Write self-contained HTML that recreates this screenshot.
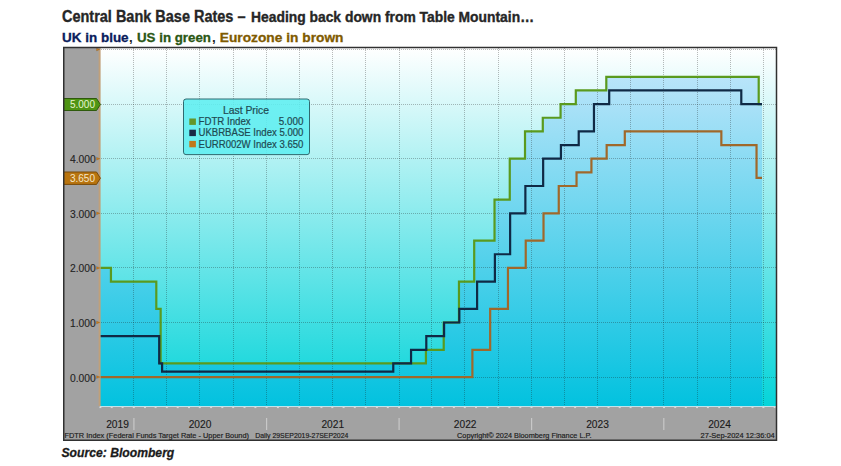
<!DOCTYPE html>
<html><head><meta charset="utf-8"><style>
html,body{margin:0;padding:0;background:#fff;width:841px;height:466px;overflow:hidden}
svg{position:absolute;left:0;top:0;display:block}
text{font-family:"Liberation Sans",sans-serif}
</style></head><body>
<svg width="841" height="466" viewBox="0 0 841 466">
<defs>
<linearGradient id="bgA" x1="0" y1="48" x2="0" y2="406" gradientUnits="userSpaceOnUse">
<stop offset="0" stop-color="#ffffff"/><stop offset="1" stop-color="#05d4d9"/></linearGradient>
<linearGradient id="bgB" x1="0" y1="48" x2="0" y2="406" gradientUnits="userSpaceOnUse">
<stop offset="0" stop-color="#c9e7fc"/><stop offset="1" stop-color="#02c2df"/></linearGradient>
</defs>
<!-- titles -->
<g font-weight="bold">
<text x="62" y="21.7" font-size="15.8" fill="#262626" stroke="#262626" stroke-width="0.35" textLength="183.5" lengthAdjust="spacingAndGlyphs">Central Bank Base Rates –</text>
<text x="251" y="21.6" font-size="14" fill="#262626" stroke="#262626" stroke-width="0.35" textLength="283" lengthAdjust="spacingAndGlyphs">Heading back down from Table Mountain…</text>
<text x="62" y="41.7" font-size="13.3" fill="#0a1c5c" stroke="#0a1c5c" stroke-width="0.3" textLength="66.6" lengthAdjust="spacingAndGlyphs">UK in blue</text>
<text x="129" y="41.7" font-size="13.3" fill="#222">,</text>
<text x="137" y="41.7" font-size="13.3" fill="#2b5714" stroke="#2b5714" stroke-width="0.3" textLength="74" lengthAdjust="spacingAndGlyphs">US in green</text>
<text x="212" y="41.7" font-size="13.3" fill="#222">,</text>
<text x="219.8" y="41.7" font-size="13.3" fill="#7f5a00" stroke="#7f5a00" stroke-width="0.3" textLength="123.7" lengthAdjust="spacingAndGlyphs">Eurozone in brown</text>
</g>
<!-- chart frame -->
<rect x="63" y="47" width="714" height="393" fill="#a2a2a2"/>
<rect x="100" y="48" width="676" height="358" fill="url(#bgA)"/>
<path d="M100.20,267.90 L110.94,267.90 L110.94,281.55 L156.30,281.55 L156.30,308.85 L160.65,308.85 L160.65,363.45 L425.93,363.45 L425.93,349.80 L443.72,349.80 L443.72,322.50 L458.96,322.50 L458.96,281.55 L474.20,281.55 L474.20,240.60 L494.52,240.60 L494.52,199.65 L509.76,199.65 L509.76,158.70 L525.01,158.70 L525.01,131.40 L542.79,131.40 L542.79,117.75 L560.57,117.75 L560.57,104.10 L575.81,104.10 L575.81,90.45 L606.30,90.45 L606.30,76.80 L758.71,76.80 L758.71,104.10 L762.00,104.10 L762.00,406 L100.20,406 Z" fill="url(#bgB)"/>
<g stroke="#1a1a1a" stroke-opacity="0.3" stroke-width="1" stroke-dasharray="1 1" fill="none">
<line x1="101" y1="377.5" x2="776" y2="377.5"/><line x1="101" y1="322.5" x2="776" y2="322.5"/><line x1="101" y1="267.5" x2="776" y2="267.5"/><line x1="101" y1="213.5" x2="776" y2="213.5"/><line x1="101" y1="158.5" x2="776" y2="158.5"/><line x1="101" y1="104.5" x2="776" y2="104.5"/><line x1="101" y1="49.5" x2="776" y2="49.5"/><line x1="133.5" y1="48" x2="133.5" y2="406"/><line x1="166.5" y1="48" x2="166.5" y2="406"/><line x1="199.5" y1="48" x2="199.5" y2="406"/><line x1="233.5" y1="48" x2="233.5" y2="406"/><line x1="266.5" y1="48" x2="266.5" y2="406"/><line x1="299.5" y1="48" x2="299.5" y2="406"/><line x1="332.5" y1="48" x2="332.5" y2="406"/><line x1="365.5" y1="48" x2="365.5" y2="406"/><line x1="399.5" y1="48" x2="399.5" y2="406"/><line x1="431.5" y1="48" x2="431.5" y2="406"/><line x1="464.5" y1="48" x2="464.5" y2="406"/><line x1="498.5" y1="48" x2="498.5" y2="406"/><line x1="531.5" y1="48" x2="531.5" y2="406"/><line x1="564.5" y1="48" x2="564.5" y2="406"/><line x1="597.5" y1="48" x2="597.5" y2="406"/><line x1="630.5" y1="48" x2="630.5" y2="406"/><line x1="663.5" y1="48" x2="663.5" y2="406"/><line x1="697.5" y1="48" x2="697.5" y2="406"/><line x1="730.5" y1="48" x2="730.5" y2="406"/><line x1="763.5" y1="48" x2="763.5" y2="406"/>
</g>
<path d="M100.20,267.90 L110.94,267.90 L110.94,281.55 L156.30,281.55 L156.30,308.85 L160.65,308.85 L160.65,363.45 L425.93,363.45 L425.93,349.80 L443.72,349.80 L443.72,322.50 L458.96,322.50 L458.96,281.55 L474.20,281.55 L474.20,240.60 L494.52,240.60 L494.52,199.65 L509.76,199.65 L509.76,158.70 L525.01,158.70 L525.01,131.40 L542.79,131.40 L542.79,117.75 L560.57,117.75 L560.57,104.10 L575.81,104.10 L575.81,90.45 L606.30,90.45 L606.30,76.80 L758.71,76.80 L758.71,104.10 L762.00,104.10" fill="none" stroke="#5a9a1e" stroke-width="2.2"/>
<path d="M100.20,336.15 L159.20,336.15 L159.20,363.45 L162.11,363.45 L162.11,371.64 L393.27,371.64 L393.27,363.45 L411.06,363.45 L411.06,349.80 L426.30,349.80 L426.30,336.15 L444.08,336.15 L444.08,322.50 L459.32,322.50 L459.32,308.85 L477.10,308.85 L477.10,281.55 L494.89,281.55 L494.89,254.25 L510.13,254.25 L510.13,213.30 L525.37,213.30 L525.37,186.00 L543.15,186.00 L543.15,158.70 L560.93,158.70 L560.93,145.05 L578.72,145.05 L578.72,131.40 L593.96,131.40 L593.96,104.10 L609.20,104.10 L609.20,90.45 L741.29,90.45 L741.29,104.10 L762.00,104.10" fill="none" stroke="#0f2945" stroke-width="2.2"/>
<path d="M100.20,377.10 L472.39,377.10 L472.39,349.80 L490.17,349.80 L490.17,308.85 L507.95,308.85 L507.95,267.90 L525.73,267.90 L525.73,240.60 L543.51,240.60 L543.51,213.30 L558.76,213.30 L558.76,186.00 L576.54,186.00 L576.54,172.35 L591.42,172.35 L591.42,158.70 L606.66,158.70 L606.66,145.05 L624.80,145.05 L624.80,131.40 L721.34,131.40 L721.34,145.05 L756.54,145.05 L756.54,177.81 L762.00,177.81" fill="none" stroke="#a0682a" stroke-width="2.2"/>
<!-- axis -->
<rect x="98.6" y="48" width="2" height="358" fill="#c0a07a"/>
<rect x="100" y="406" width="676" height="1" fill="#c0e4ec"/>
<g fill="#d8d8d8"><rect x="99.4" y="406.5" width="2" height="1.6"/><rect x="110.7" y="406.5" width="2" height="1.6"/><rect x="121.6" y="406.5" width="2" height="1.6"/><rect x="132.8" y="406.5" width="2" height="1.6"/><rect x="144.0" y="406.5" width="2" height="1.6"/><rect x="154.6" y="406.5" width="2" height="1.6"/><rect x="165.8" y="406.5" width="2" height="1.6"/><rect x="176.7" y="406.5" width="2" height="1.6"/><rect x="188.0" y="406.5" width="2" height="1.6"/><rect x="198.8" y="406.5" width="2" height="1.6"/><rect x="210.1" y="406.5" width="2" height="1.6"/><rect x="221.3" y="406.5" width="2" height="1.6"/><rect x="232.2" y="406.5" width="2" height="1.6"/><rect x="243.5" y="406.5" width="2" height="1.6"/><rect x="254.4" y="406.5" width="2" height="1.6"/><rect x="265.6" y="406.5" width="2" height="1.6"/><rect x="276.9" y="406.5" width="2" height="1.6"/><rect x="287.0" y="406.5" width="2" height="1.6"/><rect x="298.3" y="406.5" width="2" height="1.6"/><rect x="309.2" y="406.5" width="2" height="1.6"/><rect x="320.4" y="406.5" width="2" height="1.6"/><rect x="331.3" y="406.5" width="2" height="1.6"/><rect x="342.6" y="406.5" width="2" height="1.6"/><rect x="353.8" y="406.5" width="2" height="1.6"/><rect x="364.7" y="406.5" width="2" height="1.6"/><rect x="375.9" y="406.5" width="2" height="1.6"/><rect x="386.8" y="406.5" width="2" height="1.6"/><rect x="398.1" y="406.5" width="2" height="1.6"/><rect x="409.3" y="406.5" width="2" height="1.6"/><rect x="419.5" y="406.5" width="2" height="1.6"/><rect x="430.7" y="406.5" width="2" height="1.6"/><rect x="441.6" y="406.5" width="2" height="1.6"/><rect x="452.9" y="406.5" width="2" height="1.6"/><rect x="463.8" y="406.5" width="2" height="1.6"/><rect x="475.0" y="406.5" width="2" height="1.6"/><rect x="486.3" y="406.5" width="2" height="1.6"/><rect x="497.2" y="406.5" width="2" height="1.6"/><rect x="508.4" y="406.5" width="2" height="1.6"/><rect x="519.3" y="406.5" width="2" height="1.6"/><rect x="530.5" y="406.5" width="2" height="1.6"/><rect x="541.8" y="406.5" width="2" height="1.6"/><rect x="551.9" y="406.5" width="2" height="1.6"/><rect x="563.2" y="406.5" width="2" height="1.6"/><rect x="574.1" y="406.5" width="2" height="1.6"/><rect x="585.3" y="406.5" width="2" height="1.6"/><rect x="596.2" y="406.5" width="2" height="1.6"/><rect x="607.5" y="406.5" width="2" height="1.6"/><rect x="618.7" y="406.5" width="2" height="1.6"/><rect x="629.6" y="406.5" width="2" height="1.6"/><rect x="640.9" y="406.5" width="2" height="1.6"/><rect x="651.7" y="406.5" width="2" height="1.6"/><rect x="663.0" y="406.5" width="2" height="1.6"/><rect x="674.2" y="406.5" width="2" height="1.6"/><rect x="684.8" y="406.5" width="2" height="1.6"/><rect x="696.0" y="406.5" width="2" height="1.6"/><rect x="706.9" y="406.5" width="2" height="1.6"/><rect x="718.2" y="406.5" width="2" height="1.6"/><rect x="729.0" y="406.5" width="2" height="1.6"/><rect x="740.3" y="406.5" width="2" height="1.6"/><rect x="751.5" y="406.5" width="2" height="1.6"/><rect x="762.4" y="406.5" width="2" height="1.6"/><rect x="773.7" y="406.5" width="2" height="1.6"/></g>
<g font-size="10.3" fill="#222" stroke="#222" stroke-width="0.12">
<path d="M96.5,48.0 L100,49.5 L96.5,51.0 Z" fill="#c87a1a"/><text x="95.8" y="163.1" text-anchor="end">4.000</text><path d="M96.5,157.2 L100,158.7 L96.5,160.2 Z" fill="#c87a1a"/><text x="95.8" y="217.7" text-anchor="end">3.000</text><path d="M96.5,211.8 L100,213.3 L96.5,214.8 Z" fill="#c87a1a"/><text x="95.8" y="272.3" text-anchor="end">2.000</text><path d="M96.5,266.4 L100,267.9 L96.5,269.4 Z" fill="#c87a1a"/><text x="95.8" y="326.9" text-anchor="end">1.000</text><path d="M96.5,321.0 L100,322.5 L96.5,324.0 Z" fill="#c87a1a"/><text x="95.8" y="381.5" text-anchor="end">0.000</text><path d="M96.5,375.6 L100,377.1 L96.5,378.6 Z" fill="#c87a1a"/>
</g>
<!-- last price tags -->
<path d="M63.5,98.5 H96.5 L100.4,104.5 L96.5,110.5 H63.5 Z" fill="#4f9414" stroke="#2f5a0c" stroke-width="1"/>
<text x="95" y="108.3" font-size="10" fill="#e6f5d0" text-anchor="end">5.000</text>
<path d="M63.5,172 H96.5 L100.4,178.2 L96.5,184.4 H63.5 Z" fill="#b8740f" stroke="#7a4a08" stroke-width="1"/>
<text x="95" y="182" font-size="10" fill="#f5e6c8" text-anchor="end">3.650</text>
<!-- x axis labels -->
<g fill="#c8c8c8">
<rect x="133.3" y="418" width="1.2" height="12"/>
<rect x="266" y="418" width="1.2" height="12"/>
<rect x="398.5" y="418" width="1.2" height="12"/>
<rect x="531" y="418" width="1.2" height="12"/>
<rect x="663.2" y="418" width="1.2" height="12"/>
</g>
<g font-size="10.2" fill="#1a1a1a" stroke="#1a1a1a" stroke-width="0.12" text-anchor="middle">
<text x="117.5" y="427.8">2019</text>
<text x="200" y="427.8">2020</text>
<text x="332.8" y="427.8">2021</text>
<text x="465.2" y="427.8">2022</text>
<text x="597.5" y="427.8">2023</text>
<text x="719.5" y="427.8">2024</text>
</g>
<g font-size="7.6" fill="#1c1c1c" stroke="#1c1c1c" stroke-width="0.18">
<text x="64.5" y="437.8" textLength="184.5" lengthAdjust="spacingAndGlyphs">FDTR Index (Federal Funds Target Rate - Upper Bound)</text>
<text x="255.2" y="437.8" textLength="93.2" lengthAdjust="spacingAndGlyphs">Daily 29SEP2019-27SEP2024</text>
<text x="457.1" y="437.8" textLength="134.4" lengthAdjust="spacingAndGlyphs">Copyright© 2024 Bloomberg Finance L.P.</text>
<text x="700.6" y="437.8" textLength="74.1" lengthAdjust="spacingAndGlyphs">27-Sep-2024 12:36:04</text>
</g>
<!-- border -->
<rect x="63.75" y="47.5" width="712.75" height="392.75" fill="none" stroke="#303030" stroke-width="1.5"/>
<!-- legend -->
<rect x="183.5" y="99" width="126" height="55.6" rx="2.5" fill="#5eeef0" fill-opacity="0.88" stroke="#2f6a70" stroke-width="1"/>
<g font-size="10" fill="#1f4a52" stroke="#1f4a52" stroke-width="0.2">
<text x="223" y="114.1" textLength="46" lengthAdjust="spacingAndGlyphs">Last Price</text>
<rect x="189.3" y="118.5" width="6.6" height="6.4" fill="#64962a" stroke="none"/>
<rect x="189.3" y="129.7" width="6.6" height="6.4" fill="#1a2a45" stroke="none"/>
<rect x="189.3" y="140.9" width="6.6" height="6.4" fill="#c0781a" stroke="none"/>
<text x="198.5" y="125.2" textLength="52.1" lengthAdjust="spacingAndGlyphs">FDTR Index</text>
<text x="278.8" y="125.2" textLength="24.6" lengthAdjust="spacingAndGlyphs">5.000</text>
<text x="198.5" y="136.4" textLength="104.9" lengthAdjust="spacingAndGlyphs">UKBRBASE Index 5.000</text>
<text x="198.5" y="147.5" textLength="104.9" lengthAdjust="spacingAndGlyphs">EURR002W Index 3.650</text>
</g>
<!-- source -->
<text x="61.5" y="456.7" font-size="13.2" font-weight="bold" font-style="italic" fill="#1a1a1a" stroke="#1a1a1a" stroke-width="0.3" textLength="112.8" lengthAdjust="spacingAndGlyphs">Source: Bloomberg</text>
</svg>
</body></html>
